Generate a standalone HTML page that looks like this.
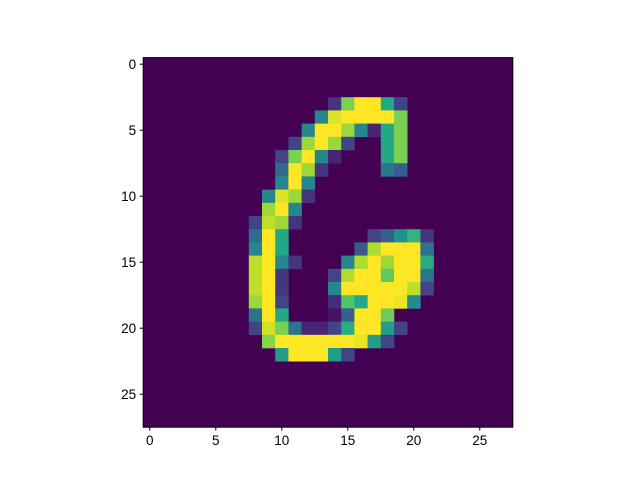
<!DOCTYPE html>
<html><head><meta charset="utf-8"><style>body{margin:0;background:#fff}svg{display:block}</style></head>
<body>
<svg id="chart" width="640" height="480" xmlns="http://www.w3.org/2000/svg" font-family="Liberation Sans, DejaVu Sans, sans-serif" font-size="13.5">
<rect width="640" height="480" fill="#fff"/>
<g id="cells"></g>
<rect x="143.2" y="57.6" width="369.6" height="369.6" fill="none" stroke="#000" stroke-width="1"/>
<g id="ticks"></g>
</svg>
<script>
const gridSize = 28;
const xTicks = [0, 5, 10, 15, 20, 25];
const yTicks = [0, 5, 10, 15, 20, 25];
// nonzero pixels: [row, col, value]
const pixels = [
[3,14,0.15],[3,15,0.8],[3,16,1],[3,17,1],[3,18,0.6],[3,19,0.2],
[4,13,0.45],[4,14,0.95],[4,15,1],[4,16,1],[4,17,1],[4,18,1],[4,19,0.8],
[5,12,0.45],[5,13,1],[5,14,1],[5,15,0.85],[5,16,0.45],[5,17,0.1],[5,18,0.6],[5,19,0.8],
[6,11,0.2],[6,12,0.85],[6,13,1],[6,14,0.85],[6,15,0.2],[6,18,0.6],[6,19,0.8],
[7,10,0.2],[7,11,0.8],[7,12,1],[7,13,0.45],[7,14,0.1],[7,18,0.6],[7,19,0.8],
[8,10,0.35],[8,11,1],[8,12,0.85],[8,13,0.15],[8,18,0.4],[8,19,0.3],
[9,10,0.45],[9,11,1],[9,12,0.45],
[10,9,0.45],[10,10,0.95],[10,11,0.85],[10,12,0.15],
[11,9,0.85],[11,10,1],[11,11,0.45],
[12,8,0.2],[12,9,0.9],[12,10,0.85],[12,11,0.15],
[13,8,0.35],[13,9,1],[13,10,0.6],[13,17,0.2],[13,18,0.3],[13,19,0.5],[13,20,0.65],[13,21,0.15],
[14,8,0.45],[14,9,1],[14,10,0.6],[14,16,0.28],[14,17,0.88],[14,18,1],[14,19,1],[14,20,1],[14,21,0.38],
[15,8,0.9],[15,9,1],[15,10,0.45],[15,11,0.15],[15,15,0.45],[15,16,0.88],[15,17,1],[15,18,0.85],[15,19,1],[15,20,1],[15,21,0.62],
[16,8,0.9],[16,9,1],[16,10,0.15],[16,14,0.2],[16,15,0.88],[16,16,1],[16,17,1],[16,18,0.75],[16,19,1],[16,20,1],[16,21,0.38],
[17,8,0.9],[17,9,1],[17,10,0.15],[17,14,0.45],[17,15,1],[17,16,1],[17,17,1],[17,18,1],[17,19,1],[17,20,0.9],[17,21,0.2],
[18,8,0.85],[18,9,1],[18,10,0.2],[18,14,0.12],[18,15,0.72],[18,16,0.6],[18,17,1],[18,18,1],[18,19,0.97],[18,20,0.48],
[19,8,0.38],[19,9,1],[19,10,0.6],[19,14,0.05],[19,15,0.3],[19,16,1],[19,17,1],[19,18,0.78],
[20,8,0.2],[20,9,0.93],[20,10,0.8],[20,11,0.38],[20,12,0.1],[20,13,0.1],[20,14,0.2],[20,15,0.62],[20,16,1],[20,17,1],[20,18,0.55],[20,19,0.2],
[21,9,0.82],[21,10,1],[21,11,1],[21,12,1],[21,13,1],[21,14,1],[21,15,1],[21,16,0.97],[21,17,0.55],[21,18,0.2],
[22,10,0.55],[22,11,1],[22,12,1],[22,13,1],[22,14,0.55],[22,15,0.2]
];
const viridis = ["#440154","#482475","#414487","#355f8d","#2a788e","#21918c","#22a884","#44bf70","#7ad151","#bddf26","#fde725"];
const X0 = 143.2, Y0 = 57.6, SIZE = 369.6, CELL = SIZE / gridSize;
function xPos(c){return X0 + c*CELL;}
function yPos(r){return Y0 + r*CELL;}
function hex(h){return [1,3,5].map(i=>parseInt(h.substr(i,2),16));}
function cmap(v){
  v=Math.max(0,Math.min(1,v));const t=v*10;const i=Math.min(9,Math.floor(t));const f=t-i;
  const a=hex(viridis[i]),b=hex(viridis[i+1]);
  return "rgb("+a.map((x,k)=>Math.round(x+(b[k]-x)*f)).join(",")+")";
}
const NS="http://www.w3.org/2000/svg";
const cells=document.getElementById("cells");
const bg=document.createElementNS(NS,"rect");
bg.setAttribute("x",X0);bg.setAttribute("y",Y0);bg.setAttribute("width",SIZE);bg.setAttribute("height",SIZE);bg.setAttribute("fill",cmap(0));


cells.appendChild(bg);
const maxV=Math.max(...pixels.map(p=>p[2]));
pixels.forEach(p=>{
  const r=document.createElementNS(NS,"rect");
  r.setAttribute("x",xPos(p[1]));r.setAttribute("y",yPos(p[0]));
  r.setAttribute("width",CELL+0.3);r.setAttribute("height",CELL+0.3);
  r.setAttribute("fill",cmap(p[2]/maxV));
  
  
  cells.appendChild(r);
});
const tk=document.getElementById("ticks");
xTicks.forEach(t=>{
  const x=xPos(t+0.5);
  const l=document.createElementNS(NS,"line");
  l.setAttribute("x1",x);l.setAttribute("x2",x);l.setAttribute("y1",Y0+SIZE);l.setAttribute("y2",Y0+SIZE+3.5);l.setAttribute("stroke","#000");
  
  
  tk.appendChild(l);
  const tx=document.createElementNS(NS,"text");
  tx.setAttribute("x",x);tx.setAttribute("y",Y0+SIZE+18);tx.setAttribute("text-anchor","middle");tx.textContent=t;
  
  
  tk.appendChild(tx);
});
yTicks.forEach(t=>{
  const y=yPos(t+0.5);
  const l=document.createElementNS(NS,"line");
  l.setAttribute("x1",X0-3.5);l.setAttribute("x2",X0);l.setAttribute("y1",y);l.setAttribute("y2",y);l.setAttribute("stroke","#000");
  
  
  tk.appendChild(l);
  const tx=document.createElementNS(NS,"text");
  tx.setAttribute("x",X0-7);tx.setAttribute("y",y+5);tx.setAttribute("text-anchor","end");tx.textContent=t;
  
  
  tk.appendChild(tx);
});
</script>
</body></html>
